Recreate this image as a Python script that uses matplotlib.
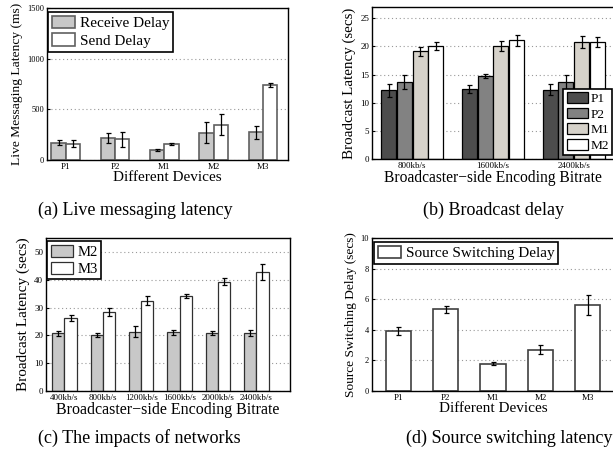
import numpy as np
import matplotlib.pyplot as plt

plt.rcParams['font.family'] = ['Liberation Serif', 'DejaVu Serif']

# (a) live messaging latency (ms)
devices = ['P1', 'P2', 'M1', 'M2', 'M3']
recv_delay = [170, 215, 102, 270, 275]
recv_err = [25, 50, 10, 105, 65]
send_delay = [160, 205, 161, 350, 740]
send_err = [35, 75, 10, 100, 20]

# (b) broadcast delay (secs)
bitrates_b = ['800kb/s', '1600kb/s', '2400kb/s']
bcast_names = ['P1', 'P2', 'M1', 'M2']
bcast_vals = [[12.2, 12.5, 12.3],
              [13.7, 14.7, 13.7],
              [19.1, 20.0, 20.8],
              [20.0, 21.1, 20.8]]
bcast_err = [[1.2, 0.7, 1.0],
             [1.2, 0.4, 1.2],
             [0.8, 0.9, 1.0],
             [0.7, 1.0, 0.9]]

# (c) impact of networks (secs)
bitrates_c = ['400kb/s', '800kb/s', '1200kb/s', '1600kb/s', '2000kb/s', '2400kb/s']
m2_vals = [20.7, 20.1, 21.3, 21.1, 20.8, 20.8]
m2_err = [0.8, 0.6, 2.0, 1.0, 0.8, 1.0]
m3_vals = [26.2, 28.3, 32.5, 34.0, 39.3, 42.7]
m3_err = [1.2, 1.5, 1.5, 0.7, 1.2, 2.9]

# (d) source switching delay (secs)
switch_vals = [3.9, 5.35, 1.79, 2.7, 5.62]
switch_err = [0.27, 0.22, 0.08, 0.28, 0.67]

W, H = 613, 455
fig = plt.figure(figsize=(W / 100, H / 100), dpi=100)


def px_axes(left, top, right, bottom):
    return fig.add_axes([left / W, 1 - bottom / H, (right - left) / W, (bottom - top) / H])


def style(ax):
    ax.set_axisbelow(True)
    ax.yaxis.grid(True, linestyle=(0, (1, 2.5)), color='#999999', linewidth=0.8)
    ax.tick_params(direction='in', length=2, labelsize=6.5, pad=2)
    for s in ax.spines.values():
        s.set_linewidth(1.0)


def legend(ax, hl=1.5, hh=0.9, tp=0.3, **kw):
    lg = ax.legend(fancybox=False, framealpha=1, edgecolor='black',
                   borderaxespad=0, handlelength=hl, handleheight=hh,
                   handletextpad=tp, borderpad=0.25, labelspacing=0.2, **kw)
    lg.get_frame().set_linewidth(1.2)
    return lg


eb = dict(ecolor='black', elinewidth=0.9, capsize=1.8, capthick=0.9)

# ---- (a)
ax = px_axes(47, 8, 288, 160)
x = np.arange(1, len(devices) + 1)
w = 0.29
ax.bar(x - w / 2, recv_delay, w, yerr=recv_err, color='#c8c8c8', edgecolor='#606060',
       linewidth=1.2, label='Receive Delay', error_kw=eb)
ax.bar(x + w / 2, send_delay, w, yerr=send_err, color='white', edgecolor='#606060',
       linewidth=1.2, label='Send Delay', error_kw=eb)
ax.set_xlim(0.62, 5.51)
ax.set_ylim(0, 1500)
ax.set_yticks([0, 500, 1000, 1500])
ax.set_xticks(x)
ax.set_xticklabels(devices)
ax.set_xlabel('Different Devices', fontsize=11, labelpad=0)
ax.set_ylabel('Live Messaging Latency (ms)', fontsize=9.7, labelpad=3)
style(ax)
ax.tick_params(axis='y', labelsize=6)
legend(ax, loc='upper left', bbox_to_anchor=(0.005, 0.975), fontsize=11)

# ---- (b)
ax = px_axes(372, 7, 614, 159)
xb = np.arange(1, len(bitrates_b) + 1)
colors_b = ['#4d4d4d', '#828282', '#d6d2ca', 'white']
wb = 0.195
for i, name in enumerate(bcast_names):
    ax.bar(xb + (i - 1.5) * wb, bcast_vals[i], wb * 0.95, yerr=bcast_err[i],
           color=colors_b[i], edgecolor='black', linewidth=0.9, label=name, error_kw=eb)
ax.set_xlim(0.5, 3.5)
ax.set_ylim(0, 27)
ax.set_yticks(range(0, 26, 5))
ax.set_xticks(xb)
ax.set_xticklabels(bitrates_b)
ax.set_xlabel('Broadcaster\u2212side Encoding Bitrate', fontsize=11.2, labelpad=0)
ax.set_ylabel('Broadcast Latency (secs)', fontsize=10.8, labelpad=3)
style(ax)
legend(ax, hl=1.6, hh=0.85, tp=0.2, loc='lower left', bbox_to_anchor=(0.79, 0.025),
       fontsize=9.6)

# ---- (c)
ax = px_axes(46, 238, 290, 391)
xc = np.arange(1, len(bitrates_c) + 1)
wc = 0.32
ax.bar(xc - wc / 2, m2_vals, wc, yerr=m2_err, color='#c8c8c8', edgecolor='#303030',
       linewidth=0.9, label='M2', error_kw=eb)
ax.bar(xc + wc / 2, m3_vals, wc, yerr=m3_err, color='white', edgecolor='#303030',
       linewidth=0.9, label='M3', error_kw=eb)
ax.set_xlim(0.52, 6.88)
ax.set_ylim(0, 55)
ax.set_yticks(range(0, 51, 10))
ax.set_xticks(xc)
ax.set_xticklabels(bitrates_c, fontsize=6)
ax.set_xlabel('Broadcaster\u2212side Encoding Bitrate', fontsize=11.5, labelpad=0)
ax.set_ylabel('Broadcast Latency (secs)', fontsize=11, labelpad=3)
style(ax)
legend(ax, loc='upper left', bbox_to_anchor=(0.005, 0.98), fontsize=10.5)

# ---- (d)
ax = px_axes(372, 238, 614, 391)
ax.bar(x, switch_vals, 0.53, yerr=switch_err, color='white', edgecolor='#404040',
       linewidth=1.2, label='Source Switching Delay', error_kw=eb)
ax.set_xlim(0.45, 5.55)
ax.set_ylim(0, 10)
ax.set_yticks(range(0, 11, 2))
ax.set_xticks(x)
ax.set_xticklabels(devices)
ax.set_xlabel('Different Devices', fontsize=11, labelpad=0)
ax.set_ylabel('Source Switching Delay (secs)', fontsize=9.6, labelpad=3)
style(ax)
ax.tick_params(axis='y', labelsize=6)
legend(ax, loc='upper left', bbox_to_anchor=(0.01, 0.975), fontsize=11)

# captions
cap = dict(ha='center', va='center', fontsize=13)
fig.text(135 / W, 1 - 210 / H, '(a) Live messaging latency', **cap)
fig.text(494 / W, 1 - 210 / H, '(b) Broadcast delay', **cap)
fig.text(139 / W, 1 - 438 / H, '(c) The impacts of networks', **cap)
fig.text(509 / W, 1 - 438 / H, '(d) Source switching latency', **cap)

fig.savefig('out.png', dpi=100)
